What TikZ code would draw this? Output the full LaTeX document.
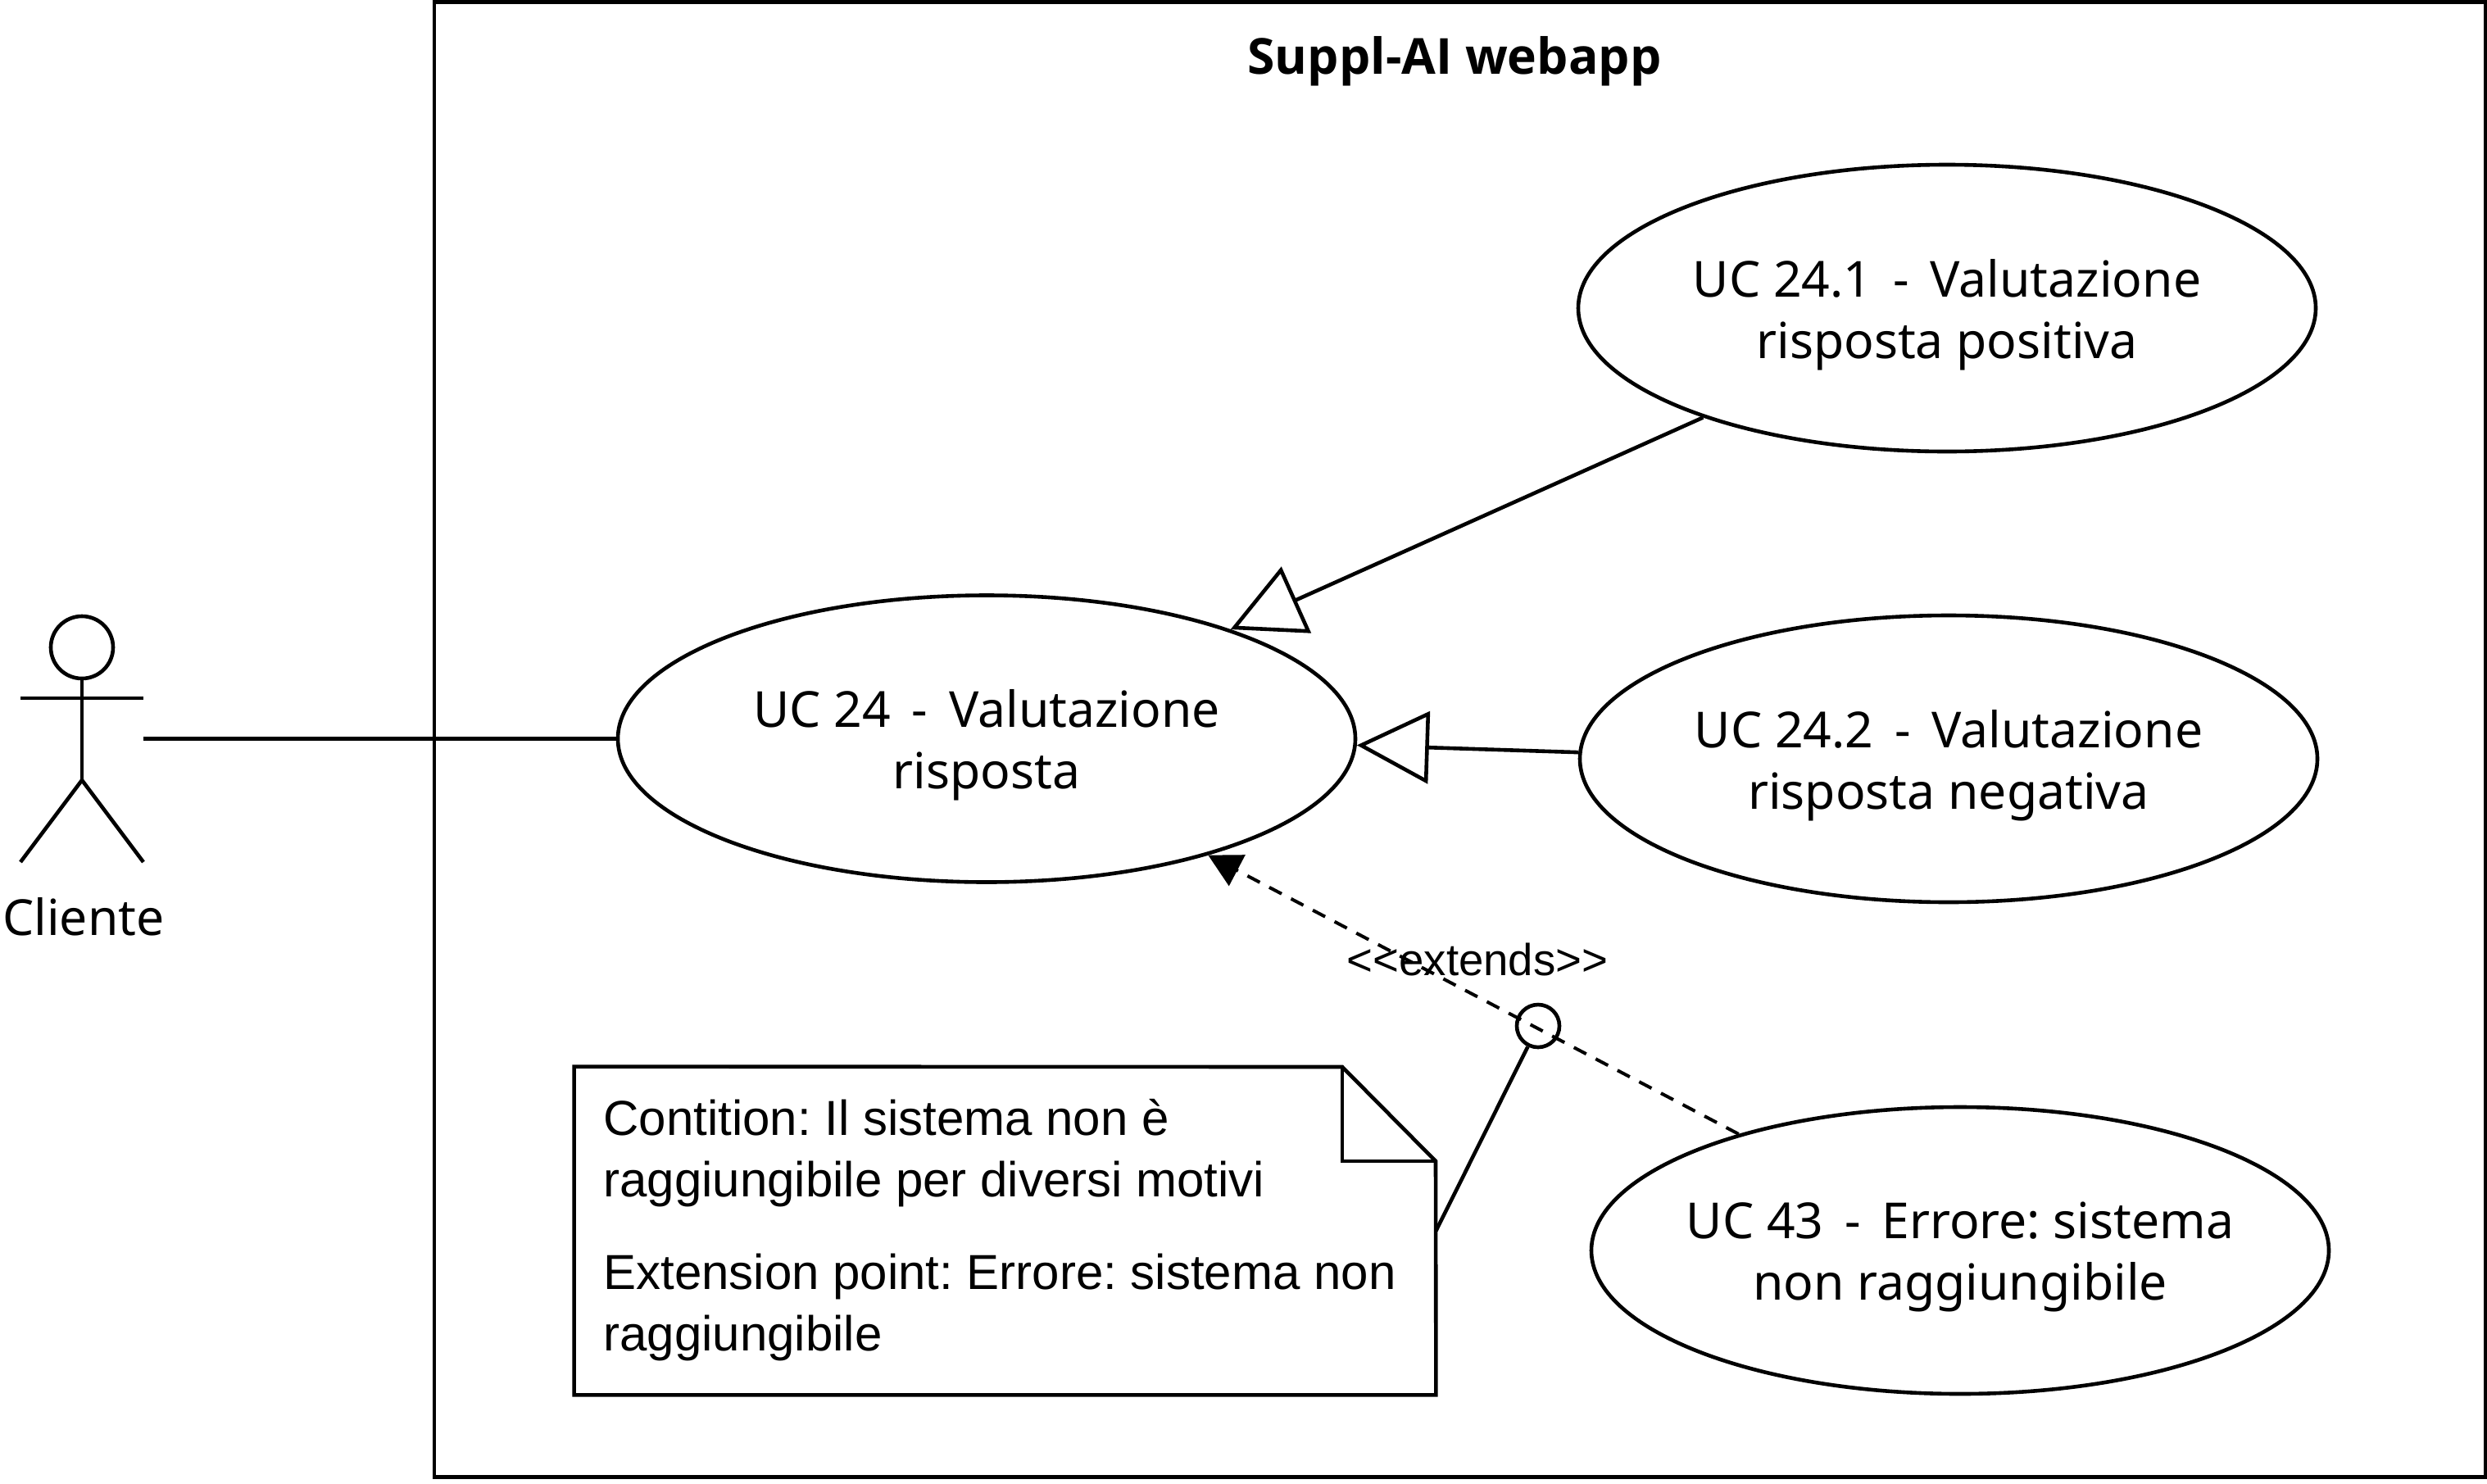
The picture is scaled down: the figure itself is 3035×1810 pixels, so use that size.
\documentclass[tikz,border=0pt]{standalone}
\usepackage{fontspec}
\setmainfont{Noto Sans}
\newfontfamily\notefont{Liberation Sans}
\newfontfamily\titlefont{Open Sans}
\usetikzlibrary{arrows.meta, shapes.geometric}
\newcommand{\ucline}[1]{\raisebox{-.6pt}{#1}}
\tikzset{
  usecase/.style={draw, ellipse, line width=2.3pt, inner sep=-30pt, minimum width=450pt, minimum height=175pt,
    align=center, text depth=0pt, font=\frenchspacing\fontsize{30.3}{37.5}\selectfont},
  general/.style={line width=2.3pt, -{Triangle[open, length=44pt, width=44pt]}},
  extend/.style={line width=2pt, dash pattern=on 8.5pt off 6.5pt, -{Triangle[length=20pt, width=21pt]}},
  stick/.style={line width=2.3pt}
}
\begin{document}
\begin{tikzpicture}[x=.5pt, y=-.5pt]
  \useasboundingbox (0,0) rectangle (3035,1810);
  % System:
  \node[draw, line width=2.3pt, minimum width=1251.5pt, minimum height=900pt, inner sep=0pt] (system) at (1781.5,902.5) {};
  \node[font=\titlefont\fontsize{30.3}{37.5}\selectfont\bfseries] (title) at (1775,75) {Suppl-AI webapp};
  % Actor:
  \node[minimum width=75pt, minimum height=150pt, inner sep=0pt] (client) at (100,901.5) {};
  \draw[stick] (100,790) circle (19pt);
  \draw[stick] (25,852) -- (175,852);
  \draw[line width=1.7pt] (100,828) -- (100,952);
  \draw[stick] (25,1052) -- (100,952) -- (175,1052);
  \node[font=\fontsize{30.3}{37.5}\selectfont] (clientname) at (102,1119) {Cliente};
  % Use cases:
  \node[usecase] (uc24) at (1204,901.5) {\ucline{UC 24 \,-\, Valutazione}\\\ucline{risposta}};
  \node[usecase] (uc241) at (2376,376) {\ucline{UC 24.1 \,-\, Valutazione}\\\ucline{risposta positiva}};
  \node[usecase] (uc242) at (2378,926) {\ucline{UC 24.2 \,-\, Valutazione}\\\ucline{risposta negativa}};
  \node[usecase] (uc43) at (2392,1526) {\ucline{UC 43 \,-\, Errore: sistema}\\\ucline{non raggiungibile}};
  % Note:
  \node[minimum width=525.5pt, minimum height=200pt, inner sep=0pt] (note) at (1226.5,1502) {};
  \draw[stick, line join=miter] (note.south west) -- (note.north west) -- (1638,1302) -- (1752,1417)
    -- (note.south east) -- cycle;
  \draw[stick, line join=miter] (1638,1302) -- (1638,1417) -- (1752,1417);
  \node[anchor=north west, inner sep=0pt, align=left, font=\frenchspacing\notefont\fontsize{30}{37.5}\selectfont] (notetext) at (736,1341)
    {Contition: Il sistema non è\\raggiungibile per diversi motivi\\[19pt]Extension point: Errore: sistema non\\raggiungibile};
  \node[draw, circle, line width=2.3pt, minimum size=26pt, inner sep=0pt] (cond) at (1877,1252) {};
  % Connectors:
  \draw[stick] (client.east) -- (uc24);
  \draw[general] (uc241) -- (uc24);
  \draw[general] (uc242.179.6) -- (uc24.-1.33);
  \draw[extend] (uc43) -- (uc24);
  \draw[stick] (cond) -- (note.east);
  \node[font=\notefont\fontsize{27.3}{32}\selectfont] (extlabel) at (1803,1171) {<{}<extends>{}>};
\end{tikzpicture}
\end{document}
